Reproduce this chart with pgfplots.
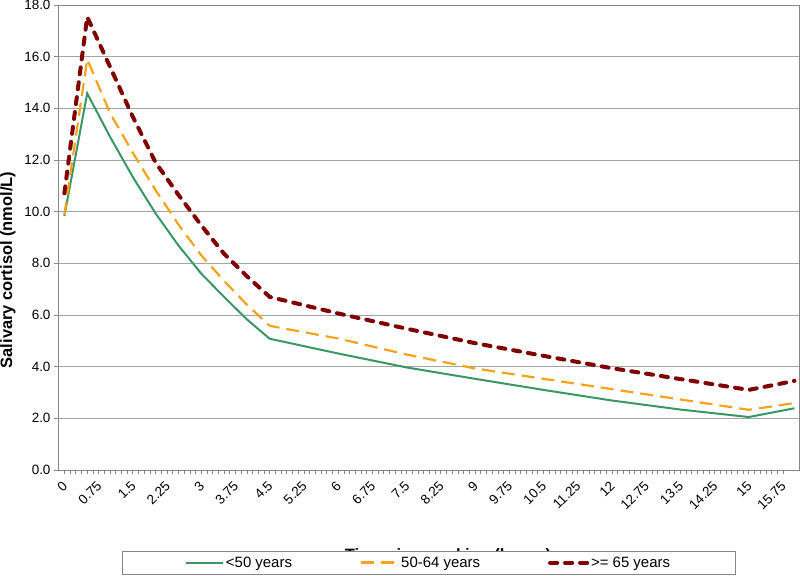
\documentclass[border=0pt]{standalone}
\usepackage{fontspec}
\setmainfont{Liberation Sans}
\usepackage{pgfplots}
\pgfplotsset{compat=1.18}
\definecolor{cgreen}{RGB}{58,150,100}
\definecolor{corange}{RGB}{247,162,28}
\definecolor{cred}{RGB}{128,0,0}
\definecolor{gridgray}{RGB}{165,165,165}
\definecolor{axgray}{RGB}{135,135,135}
\begin{document}
\begin{tikzpicture}
\path[use as bounding box] (-58bp,-106bp) rectangle (742bp,470bp);
\node[font=\bfseries\fontsize{16.5}{19}\selectfont, anchor=base] at (390bp,-90bp) {Time since waking (hours)};
\node[font=\bfseries\fontsize{16.5}{19}\selectfont, rotate=90] at (-50bp,200bp) {Salivary cortisol (nmol/L)};
\begin{axis}[
  at={(0,0)}, anchor=south west,
  scale only axis, width=741bp, height=465bp,
  xmin=-0.14, xmax=16.1, ymin=0, ymax=18,
  ytick={0,2,4,6,8,10,12,14,16,18},
  yticklabel style={/pgf/number format/fixed, /pgf/number format/fixed zerofill, /pgf/number format/precision=1},
  /pgf/number format/assume math mode=true,
  ymajorgrids, grid style={gridgray, line width=0.8bp},
  xtick={0,0.75,1.5,2.25,3,3.75,4.5,5.25,6,6.75,7.5,8.25,9,9.75,10.5,11.25,12,12.75,13.5,14.25,15,15.75},
  xticklabels={0,0.75,1.5,2.25,3,3.75,4.5,5.25,6,6.75,7.5,8.25,9,9.75,10.5,11.25,12,12.75,13.5,14.25,15,15.75},
  minor x tick num=5,
  xtick pos=bottom, ytick pos=left,
  tick align=outside, major tick length=4bp, minor tick length=4bp,
  tick style={axgray, line width=0.7bp},
  axis line style={axgray, line width=0.9bp},
  tick label style={font=\fontsize{13.5}{15}\selectfont, text=black},
  xticklabel style={yshift=-7bp, xshift=3bp, rotate=45, anchor=east},
  legend columns=3,
  legend image code/.code={\draw[#1] (0bp,0bp) -- (37bp,0bp);},
  legend style={at={(0.5,-0.199)}, anchor=center, draw=axgray, line width=0.7bp, fill=white,
    font=\fontsize{15}{17}\selectfont, inner xsep=63bp, inner ysep=3.5bp,
    /tikz/every even column/.append style={column sep=66bp}},
]
\addplot[cgreen, line width=2bp] coordinates {
(0,9.83)(0.5,14.58)(1,12.9)(1.5,11.34)(2,9.93)(2.5,8.69)(3,7.60)(3.5,6.70)(4,5.83)(4.5,5.08)
(6,4.51)(7.5,3.97)(9,3.53)(10.5,3.10)(12,2.69)(13.5,2.34)(15,2.05)(16,2.39)};
\addlegendentry{<50 years}
\addplot[corange, line width=2.2bp, dash pattern=on 13bp off 7bp] coordinates {
(0,9.88)(0.5,15.9)(1,13.82)(1.5,12.28)(2,10.83)(2.5,9.5)(3,8.31)(3.5,7.32)(4,6.40)(4.5,5.58)
(6,5.09)(7.5,4.47)(9,3.93)(10.5,3.53)(12,3.13)(13.5,2.73)(15,2.33)(16,2.59)};
\addlegendentry{50-64 years}
\addplot[cred, line width=4bp, line cap=round, dash pattern=on 7bp off 8bp] coordinates {
(0,10.71)(0.5,17.54)(1,15.61)(1.5,13.67)(2,11.9)(2.5,10.65)(3,9.47)(3.5,8.37)(4,7.5)(4.5,6.7)
(6,6.06)(7.5,5.47)(9,4.91)(10.5,4.42)(12,3.94)(13.5,3.52)(15,3.10)(16,3.45)};
\addlegendentry{>= 65 years}
\draw[axgray, line width=0.7bp] (rel axis cs:1,0) -- (rel axis cs:1,1);
\end{axis}
\end{tikzpicture}
\end{document}
